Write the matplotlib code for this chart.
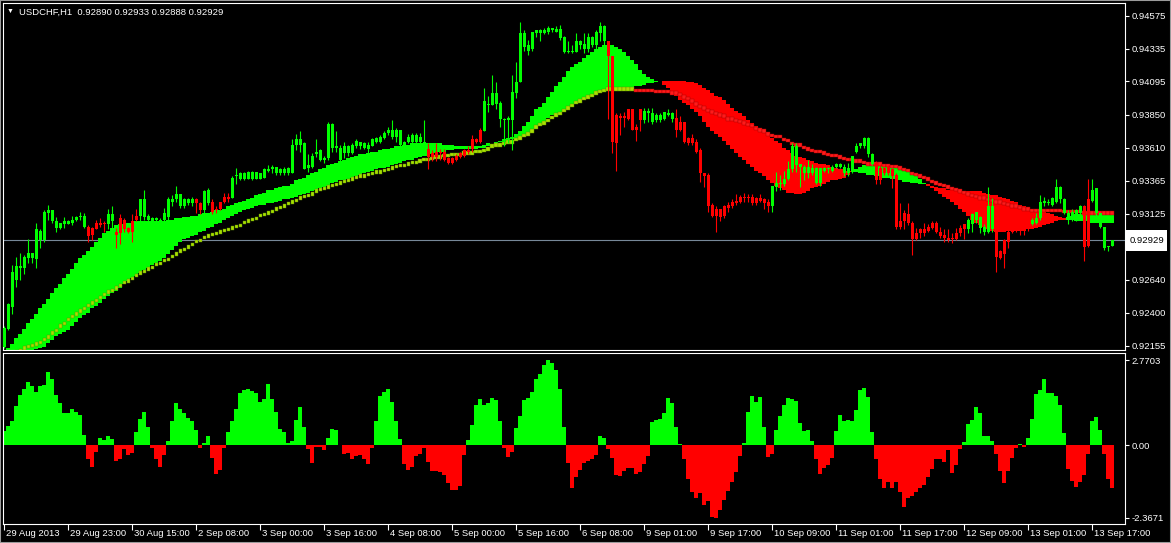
import numpy as np
import matplotlib
matplotlib.use("Agg")
import matplotlib.pyplot as plt
import matplotlib.transforms as mtransforms
from matplotlib.patches import Rectangle

plt.rcParams['font.family'] = ['Liberation Sans', 'DejaVu Sans']

# prices are kept in pips above 0.92000
BASE = 0.92
PIP = 0.0001

open_pips = [
    15, 28, 44, 64, 73, 73, 80, 80, 79, 93,
    93, 113, 107, 102, 102, 105, 105, 106, 108, 110,
    103, 103, 102, 106, 106, 106, 105, 107, 99, 109,
    108, 102, 107, 111, 111, 110, 108, 107, 108, 107,
    108, 110, 121, 123, 118, 118, 120, 120, 123, 120,
    115, 120, 121, 116, 121, 125, 125, 124, 140, 138,
    138, 138, 138, 138, 138, 139, 144, 145, 142, 142,
    142, 142, 142, 163, 163, 145, 146, 147, 156, 152,
    152, 153, 161, 161, 152, 157, 157, 157, 162, 162,
    161, 160, 162, 165, 165, 168, 172, 169, 169, 163,
    163, 165, 165, 165, 165, 162, 160, 157, 158, 158,
    158, 153, 153, 155, 157, 159, 159, 167, 167, 174,
    173, 192, 192, 193, 182, 181, 181, 181, 201, 209,
    235, 232, 233, 245, 245, 245, 246, 247, 246, 241,
    231, 231, 231, 231, 236, 233, 233, 236, 236, 245,
    239, 239, 228, 185, 184, 184, 189, 189, 176, 189,
    181, 186, 180, 181, 181, 182, 185, 182, 183, 180,
    180, 168, 168, 165, 159, 142, 141, 119, 116, 116,
    118, 119, 121, 122, 125, 125, 125, 125, 124, 124,
    123, 121, 118, 132, 134, 134, 138, 145, 148, 147,
    142, 142, 142, 135, 135, 144, 145, 144, 147, 147,
    142, 142, 143, 158, 162, 162, 156, 149, 150, 146,
    146, 147, 145, 141, 107, 113, 112, 106, 98, 101,
    101, 103, 106, 106, 99, 97, 95, 95, 98, 102,
    105, 101, 105, 108, 102, 99, 99, 101, 101, 85,
    93, 99, 101, 101, 101, 102, 103, 105, 106, 109,
    120, 120, 119, 121, 123, 113, 108, 109, 108, 113,
    118, 123, 122, 113, 103, 87, 88, 89.0,
]
high_pips = [
    30, 47, 75, 81, 84, 82, 94, 84, 106, 101,
    115, 119, 115, 110, 106, 110, 108, 111, 111, 114,
    113, 104, 103, 108, 109, 107, 116, 118, 102, 112,
    109, 103, 112, 116, 123, 130, 112, 110, 110, 109,
    117, 125, 126, 133, 127, 124, 124, 125, 124, 121,
    130, 131, 123, 118, 121, 128, 128, 140, 146, 143,
    143, 144, 144, 143, 142, 146, 148, 148, 147, 146,
    147, 147, 167, 171, 173, 165, 156, 157, 167, 160,
    155, 180, 179, 173, 163, 165, 163, 164, 167, 165,
    165, 165, 168, 169, 170, 173, 176, 181, 175, 174,
    166, 171, 172, 172, 172, 181, 164, 159, 164, 160,
    160, 154, 154, 156, 158, 160, 162, 170, 168, 175,
    205, 199, 214, 209, 195, 183, 184, 214, 224, 253,
    247, 240, 246, 247, 248, 249, 250, 249, 250, 251,
    243, 239, 236, 245, 240, 245, 245, 243, 247, 253,
    251, 239, 228, 186, 186, 187, 189, 189, 178, 189,
    190, 190, 190, 186, 186, 187, 189, 187, 189, 184,
    180, 169, 171, 167, 161, 142, 142, 120, 118, 116,
    119, 121, 123, 127, 126, 128, 127, 127, 125, 127,
    124, 123, 133, 143, 141, 144, 151, 164, 164, 149,
    148, 152, 149, 147, 146, 147, 147, 148, 150, 150,
    149, 150, 155, 164, 164, 169, 169, 157, 151, 148,
    147, 148, 146, 142, 120, 115, 120, 107, 102, 102,
    106, 105, 107, 107, 103, 101, 101, 98, 102, 104,
    105, 109, 113, 114, 111, 105, 132, 124, 101, 86,
    94, 101, 102, 101, 101, 102, 104, 109, 113, 126,
    125, 123, 125, 138, 133, 124, 115, 116, 116, 119,
    119, 138, 138, 131, 113, 103, 89, 93.3,
]
low_pips = [
    14, 27, 39, 59, 64, 68, 76, 76, 73, 87,
    92, 108, 106, 99, 101, 102, 105, 104, 107, 108,
    102, 92, 93, 101, 103, 99, 101, 101, 87, 90,
    99, 98, 92, 107, 107, 108, 107, 106, 107, 105,
    107, 108, 118, 121, 117, 117, 119, 118, 113, 112,
    113, 119, 112, 113, 115, 120, 121, 124, 134, 137,
    137, 138, 137, 138, 138, 139, 143, 142, 141, 141,
    141, 141, 142, 159, 158, 145, 143, 146, 154, 151,
    150, 152, 158, 158, 151, 153, 155, 156, 161, 160,
    160, 156, 162, 164, 164, 167, 170, 167, 165, 162,
    162, 164, 164, 164, 164, 162, 145, 151, 151, 152,
    151, 149, 149, 151, 153, 154, 156, 158, 164, 164,
    173, 187, 192, 189, 176, 162, 164, 159, 197, 209,
    232, 229, 232, 242, 239, 244, 244, 246, 246, 240,
    230, 230, 230, 231, 233, 230, 231, 235, 233, 239,
    236, 182, 157, 144, 170, 176, 181, 174, 166, 173,
    179, 180, 178, 180, 180, 181, 184, 180, 169, 173,
    164, 163, 163, 157, 136, 132, 114, 110, 99, 107,
    109, 114, 117, 119, 120, 121, 121, 119, 119, 121,
    116, 114, 114, 129, 130, 133, 137, 143, 143, 132,
    137, 139, 141, 134, 133, 143, 142, 143, 146, 146,
    140, 140, 142, 157, 161, 161, 154, 148, 134, 134,
    141, 141, 131, 101, 101, 101, 104, 82, 93, 95,
    96, 99, 101, 98, 95, 92, 92, 91, 93, 96,
    94, 98, 99, 106, 98, 97, 98, 99, 70, 79,
    73, 87, 98, 99, 97, 97, 100, 104, 105, 108,
    118, 119, 118, 120, 120, 112, 105, 107, 107, 108,
    78, 88, 121, 111, 102, 86, 85, 88.8,
]
close_pips = [
    29, 46, 70, 74, 74, 81, 84, 84, 101, 100,
    114, 115, 115, 107, 106, 107, 107, 108, 110, 111,
    111, 96, 97, 101, 104, 105, 112, 112, 97, 98,
    101, 99, 99, 108, 123, 123, 111, 109, 109, 108,
    113, 123, 123, 127, 127, 123, 123, 123, 120, 115,
    129, 130, 114, 115, 116, 121, 123, 139, 141, 142,
    142, 143, 143, 143, 142, 145, 145, 147, 147, 145,
    145, 146, 163, 167, 167, 164, 148, 155, 158, 159,
    153, 178, 178, 162, 161, 162, 162, 163, 166, 165,
    164, 163, 167, 168, 169, 172, 174, 174, 174, 174,
    165, 169, 170, 170, 169, 165, 154, 154, 154, 157,
    152, 150, 150, 152, 154, 155, 158, 160, 165, 165,
    195, 193, 201, 201, 194, 182, 183, 202, 209, 245,
    245, 236, 246, 247, 247, 247, 249, 249, 248, 248,
    242, 232, 232, 239, 239, 237, 242, 242, 246, 250,
    250, 228, 165, 164, 183, 183, 182, 174, 174, 181,
    188, 188, 186, 185, 185, 187, 186, 186, 174, 174,
    165, 164, 164, 158, 142, 140, 118, 111, 111, 110,
    111, 117, 118, 120, 121, 124, 124, 120, 120, 122,
    120, 118, 133, 135, 135, 138, 145, 162, 162, 149,
    147, 147, 146, 146, 146, 146, 146, 147, 149, 149,
    147, 146, 155, 162, 164, 168, 168, 156, 137, 137,
    142, 142, 140, 103, 103, 107, 106, 94, 94, 98,
    98, 100, 102, 99, 96, 95, 93, 94, 94, 98,
    101, 108, 112, 114, 110, 103, 118, 118, 81, 80,
    83, 92, 99, 100, 100, 100, 101, 108, 109, 121,
    122, 121, 124, 132, 132, 123, 113, 114, 115, 118,
    88, 89, 130, 131, 113, 103, 89, 92.9,
]

# ribbon: fast and slow averages
fast_pips = [
    12, 14, 17, 21, 24, 28, 32, 35, 39, 43,
    46, 50, 54, 58, 61, 65, 68, 72, 76, 80,
    82, 85, 88, 92, 95, 98, 100, 102, 104, 105,
    105, 106, 106, 107, 107, 107, 107, 107, 107, 107,
    107, 108, 108, 109, 109, 110, 110, 111, 111, 112,
    113, 113, 114, 115, 115, 116, 118, 119, 120, 121,
    122, 123, 124, 126, 127, 128, 130, 130, 131, 132,
    133, 133, 134, 137, 138, 139, 141, 142, 143, 145,
    146, 148, 149, 150, 151, 152, 153, 154, 155, 156,
    156, 157, 158, 158, 159, 160, 160, 161, 162, 162,
    163, 163, 164, 164, 164, 164, 164, 164, 164, 164,
    163, 163, 163, 162, 162, 162, 162, 162, 162, 162,
    163, 164, 164, 165, 166, 167, 168, 169, 171, 173,
    177, 180, 184, 189, 191, 194, 198, 202, 206, 209,
    213, 217, 220, 222, 224, 227, 229, 231, 233, 235,
    236, 236, 236, 235, 233, 231, 228, 225, 222, 218,
    215, 213, 211, 210, 209, 207, 205, 202, 199, 196,
    194, 192, 189, 187, 184, 180, 176, 173, 171, 169,
    166, 163, 160, 157, 154, 152, 149, 147, 144, 142,
    140, 137, 135, 133, 131, 130, 128, 128, 127, 127,
    128, 129, 131, 132, 133, 134, 136, 137, 137, 138,
    139, 141, 143, 145, 147, 148, 149, 149, 149, 148,
    148, 147, 146, 146, 145, 144, 143, 141, 140, 138,
    135, 133, 131, 129, 127, 125, 123, 121, 119, 116,
    114, 111, 108, 106, 104, 103, 101, 100, 99, 99,
    99, 100, 100, 100, 100, 100, 101, 101, 102, 103,
    104, 105, 106, 107, 108, 108, 110, 111, 112, 112,
    112, 112, 112, 112, 112, 112, 112, 112,
]
slow_pips = [
    0, 2, 4, 6, 8, 9, 10, 12, 13, 14,
    15, 18, 20, 23, 24, 26, 27, 30, 33, 36,
    38, 40, 43, 45, 47, 50, 52, 54, 56, 58,
    61, 63, 65, 67, 69, 71, 73, 75, 76, 78,
    80, 83, 86, 89, 92, 94, 95, 96, 97, 99,
    100, 102, 103, 105, 106, 108, 109, 111, 112, 114,
    115, 116, 117, 118, 119, 119, 120, 120, 121, 122,
    123, 123, 124, 125, 126, 127, 128, 129, 130, 131,
    132, 133, 135, 136, 137, 137, 138, 139, 140, 141,
    142, 143, 144, 145, 146, 146, 147, 148, 149, 150,
    151, 152, 152, 153, 154, 155, 155, 156, 157, 158,
    158, 159, 159, 160, 160, 160, 160, 160, 160, 161,
    161, 162, 164, 164, 165, 165, 166, 167, 168, 169,
    171, 172, 174, 176, 178, 180, 183, 185, 186, 187,
    189, 191, 193, 195, 196, 197, 198, 199, 201, 202,
    202, 203, 203, 204, 204, 205, 205, 205, 206, 206,
    207, 208, 208, 209, 209, 210, 210, 210, 210, 210,
    210, 209, 209, 208, 207, 205, 203, 201, 199, 198,
    196, 193, 190, 188, 186, 184, 181, 179, 177, 175,
    173, 171, 168, 166, 164, 161, 159, 157, 155, 154,
    153, 152, 151, 150, 149, 149, 148, 147, 146, 145,
    145, 144, 144, 143, 142, 142, 141, 141, 140, 140,
    139, 139, 138, 138, 137, 136, 136, 135, 135, 134,
    134, 134, 133, 132, 131, 131, 130, 130, 129, 129,
    129, 129, 129, 129, 129, 128, 127, 126, 126, 125,
    124, 123, 122, 121, 119, 118, 117, 116, 116, 115,
    114, 113, 112, 111, 110, 109, 108, 108, 107, 107,
    107, 107, 106, 106, 106, 106, 106, 106,
]
# dotted average
dots_pips = [
    8, 9, 10, 11, 12, 14, 15, 16, 17, 18,
    20, 22, 25, 27, 30, 32, 35, 37, 39, 41,
    43, 45, 47, 49, 51, 53, 55, 56, 58, 60,
    62, 63, 65, 67, 69, 70, 72, 73, 75, 76,
    78, 79, 81, 83, 85, 86, 88, 90, 92, 93,
    95, 96, 97, 98, 99, 100, 101, 102, 103, 104,
    106, 107, 108, 109, 111, 112, 113, 114, 116, 117,
    118, 120, 121, 122, 124, 125, 126, 127, 129, 130,
    131, 132, 133, 134, 135, 136, 137, 138, 139, 140,
    140, 141, 142, 143, 143, 144, 145, 146, 147, 148,
    148, 149, 150, 150, 151, 152, 152, 153, 154, 154,
    155, 155, 156, 156, 156, 157, 157, 157, 158, 158,
    159, 160, 162, 163, 163, 164, 165, 165, 167, 168,
    170, 171, 173, 176, 178, 179, 181, 183, 185, 186,
    188, 190, 192, 194, 195, 197, 198, 199, 201, 202,
    203, 204, 204, 204, 204, 204, 204, 204, 203, 203,
    203, 203, 203, 202, 202, 202, 202, 201, 201, 200,
    198, 197, 195, 193, 191, 190, 188, 187, 186, 185,
    184, 182, 182, 181, 180, 179, 178, 177, 175, 174,
    173, 171, 170, 169, 169, 167, 166, 164, 163, 163,
    161, 160, 159, 158, 158, 157, 156, 155, 155, 154,
    153, 152, 152, 151, 151, 150, 149, 149, 149, 149,
    148, 148, 147, 147, 146, 145, 144, 142, 141, 140,
    139, 138, 136, 135, 134, 133, 132, 131, 130, 129,
    128, 127, 126, 125, 124, 124, 123, 122, 121, 121,
    120, 119, 118, 118, 117, 116, 116, 115, 115, 115,
    115, 115, 115, 115, 115, 114, 114, 114, 114, 114,
    113, 113, 113, 113, 113, 113, 113, 113,
]
# lower window oscillator
hist_vals = [
    0.45, 0.61, 0.80, 1.27, 1.62, 1.84, 2.07, 1.91, 1.73, 1.91,
    1.96, 2.37, 2.15, 1.63, 1.36, 1.03, 1.03, 1.19, 1.07, 0.97,
    0.33, -0.46, -0.72, -0.22, 0.23, 0.17, 0.30, 0.20, -0.52, -0.44,
    -0.13, -0.32, -0.25, 0.44, 0.86, 1.09, 0.58, -0.09, -0.46, -0.72,
    -0.33, 0.14, 0.77, 1.36, 1.19, 1.03, 0.88, 0.79, 0.50, -0.09,
    0.06, 0.30, -0.42, -0.94, -0.80, -0.08, 0.44, 0.77, 1.19, 1.71,
    1.80, 1.84, 1.76, 1.71, 1.40, 1.49, 1.98, 1.49, 1.07, 0.52,
    0.41, 0.08, 0.14, 0.83, 1.25, 0.58, -0.14, -0.58, -0.06, -0.06,
    -0.17, 0.23, 0.53, 0.50, 0.01, -0.29, -0.25, -0.47, -0.36, -0.33,
    -0.47, -0.61, -0.09, 0.79, 1.60, 1.74, 1.84, 1.40, 0.79, 0.20,
    -0.61, -0.80, -0.72, -0.36, -0.30, -0.09, -0.55, -0.86, -0.85, -0.88,
    -0.96, -1.25, -1.46, -1.47, -1.32, -0.33, 0.17, 0.66, 1.29, 1.49,
    1.32, 1.38, 1.54, 1.46, 0.77, -0.08, -0.39, -0.22, 0.55, 0.96,
    1.46, 1.54, 1.74, 2.15, 2.32, 2.62, 2.77, 2.67, 2.46, 1.84,
    0.58, -0.57, -1.41, -1.03, -0.80, -0.58, -0.53, -0.46, -0.33, 0.30,
    0.24, -0.13, -0.41, -0.99, -1.01, -0.86, -0.74, -0.74, -0.94, -0.88,
    -0.63, -0.36, 0.74, 0.83, 0.86, 1.03, 1.54, 1.36, 0.58, 0.03,
    -0.47, -1.12, -1.52, -1.73, -1.57, -1.95, -1.82, -2.34, -2.37, -2.12,
    -1.80, -1.51, -1.19, -0.88, -0.35, 0.06, 1.07, 1.60, 1.40, 1.57,
    0.58, -0.39, -0.30, 0.50, 0.94, 1.29, 1.54, 1.49, 1.43, 0.72,
    0.47, 0.50, 0.13, -0.46, -0.94, -0.75, -0.66, -0.42, 0.47, 0.99,
    0.80, 0.83, 0.80, 1.14, 1.80, 1.87, 1.58, 0.44, -0.44, -1.12,
    -1.40, -1.21, -1.40, -1.21, -1.54, -2.01, -1.71, -1.65, -1.54, -1.40,
    -1.30, -1.05, -0.79, -0.47, -0.47, -0.55, -0.17, -0.92, -0.66, -0.14,
    0.11, 0.69, 0.83, 1.25, 1.03, 0.30, 0.30, 0.13, -0.28, -0.83,
    -1.25, -0.83, -0.41, -0.08, 0.03, -0.06, 0.22, 0.85, 1.65, 1.79,
    2.15, 1.71, 1.71, 1.60, 1.29, 0.39, -0.77, -1.18, -1.38, -1.19,
    -0.97, -0.30, 0.77, 0.92, 0.50, -0.30, -1.10, -1.41,
]

price_ticks = [0.94575, 0.94335, 0.94095, 0.93850, 0.93610, 0.93365,
               0.93125, 0.92885, 0.92640, 0.92400, 0.92155]
osc_ticks = [2.7703, 0.0, -2.3671]
osc_labels = ['2.7703', '0.00', '-2.3671']
time_pos = list(range(0, 273, 16))
time_labels = ['29 Aug 2013', '29 Aug 23:00', '30 Aug 15:00', '2 Sep 08:00',
               '3 Sep 00:00', '3 Sep 16:00', '4 Sep 08:00', '5 Sep 00:00',
               '5 Sep 16:00', '6 Sep 08:00', '9 Sep 01:00', '9 Sep 17:00',
               '10 Sep 09:00', '11 Sep 01:00', '11 Sep 17:00', '12 Sep 09:00',
               '13 Sep 01:00', '13 Sep 17:00']
last_price = 0.92929
title = 'USDCHF,H1  0.92890 0.92933 0.92888 0.92929'

GREEN = '#00ff00'
RED = '#ff0000'
DOT_UP, DOT_UP_EDGE = '#a8e000', '#5c8c00'
DOT_DN, DOT_DN_EDGE = '#ff1a1a', '#a00000'
FS = 6.8

o = BASE + np.array(open_pips) * PIP
h = BASE + np.array(high_pips) * PIP
l = BASE + np.array(low_pips) * PIP
c = BASE + np.array(close_pips) * PIP
fast = BASE + np.array(fast_pips) * PIP
slow = BASE + np.array(slow_pips) * PIP
dots = BASE + np.array(dots_pips) * PIP
osc = np.array(hist_vals)
x = np.arange(len(c))

W, H = 1171, 543
fig = plt.figure(figsize=(W / 100, H / 100), dpi=100, facecolor='black')


def px_box(left, top, right, bottom):
    return [left / W, 1 - bottom / H, (right - left) / W, (bottom - top) / H]


ax1 = fig.add_axes(px_box(3, 3, 1125, 350))
ax2 = fig.add_axes(px_box(3, 352.7, 1125, 523.6), sharex=ax1)

# bid line sits behind the indicator
ax1.axhline(last_price, color='#778899', lw=0.8, zorder=0.5)

# ribbon between the two averages
up = fast >= slow
ax1.bar(x, np.abs(fast - slow), bottom=np.minimum(fast, slow), width=1.0,
        color=[GREEN if u else RED for u in up], linewidth=0,
        antialiased=False, zorder=1)

# dotted average, coloured by its slope
dot_cols, dot_edges = [], []
cur = 'up'
for dv in np.diff(dots_pips, prepend=dots_pips[0]):
    if dv > 0:
        cur = 'up'
    elif dv < 0:
        cur = 'dn'
    dot_cols.append(DOT_UP if cur == 'up' else DOT_DN)
    dot_edges.append(DOT_UP_EDGE if cur == 'up' else DOT_DN_EDGE)
ax1.scatter(x, dots, s=6, marker='s', c=dot_cols, edgecolors=dot_edges,
            linewidths=0.3, zorder=2)

# candles
ccols = [GREEN if cc >= oo else RED for oo, cc in zip(o, c)]
ax1.vlines(x, l, h, colors=ccols, lw=0.8, zorder=3)
ax1.bar(x, np.maximum(np.abs(c - o), 0.8 * PIP), bottom=np.minimum(o, c),
        width=0.75, color=ccols, linewidth=0, antialiased=False, zorder=4)

# oscillator histogram
ax2.bar(x, osc, width=1.0, color=[GREEN if v >= 0 else RED for v in osc],
        linewidth=0, antialiased=False)

for ax in (ax1, ax2):
    ax.set_facecolor('black')
    for sp in ax.spines.values():
        sp.set_color('white')
        sp.set_linewidth(0.8)
    ax.yaxis.tick_right()
    ax.tick_params(axis='y', colors='white', labelcolor='white',
                   labelsize=FS, length=3, width=0.8, pad=1.5)

ax1.set_xlim(-0.33, 280.25)
ax1.set_ylim(BASE + 12.5 * PIP, BASE + 267 * PIP)
ax1.set_yticks(price_ticks)
ax1.set_yticklabels([f'{p:.5f}' for p in price_ticks])
ax1.tick_params(axis='x', bottom=False, labelbottom=False)

ax2.set_ylim(-2.56, 3.01)
ax2.set_yticks(osc_ticks)
ax2.set_yticklabels(osc_labels)
ax2.set_xticks(time_pos)
ax2.tick_params(axis='x', colors='white', length=4, width=0.8,
                labelbottom=False)

trans = (mtransforms.blended_transform_factory(ax2.transData, ax2.transAxes)
         + mtransforms.ScaledTranslation(2 / 100, 0, fig.dpi_scale_trans))
for pos, lab in zip(time_pos, time_labels):
    ax2.text(pos, -0.058, lab, transform=trans, ha='left', va='center',
             fontsize=FS, color='white', clip_on=False)

# current price tag on the price scale
tag_tr = mtransforms.blended_transform_factory(fig.transFigure, ax1.transData)
ax1.add_patch(Rectangle((1126 / W, last_price - 7.8 * PIP), 41 / W, 15.6 * PIP,
                        transform=tag_tr, fc='white', ec='none',
                        clip_on=False, zorder=9))
ax1.text(1130 / W, last_price, '0.92929', transform=tag_tr, ha='left',
         va='center', fontsize=FS, color='black', clip_on=False, zorder=10)

fig.text(7 / W, 1 - 11 / H, '\u25bc', fontsize=5, color='white', va='center')
fig.text(19 / W, 1 - 12 / H, title, fontsize=FS, color='white', va='center')

fig.add_artist(Rectangle((0, 0), 1, 1, transform=fig.transFigure, fill=False,
                         edgecolor='#9a9a9a', lw=1.5))

fig.savefig('out.png', dpi=100, facecolor='black')
